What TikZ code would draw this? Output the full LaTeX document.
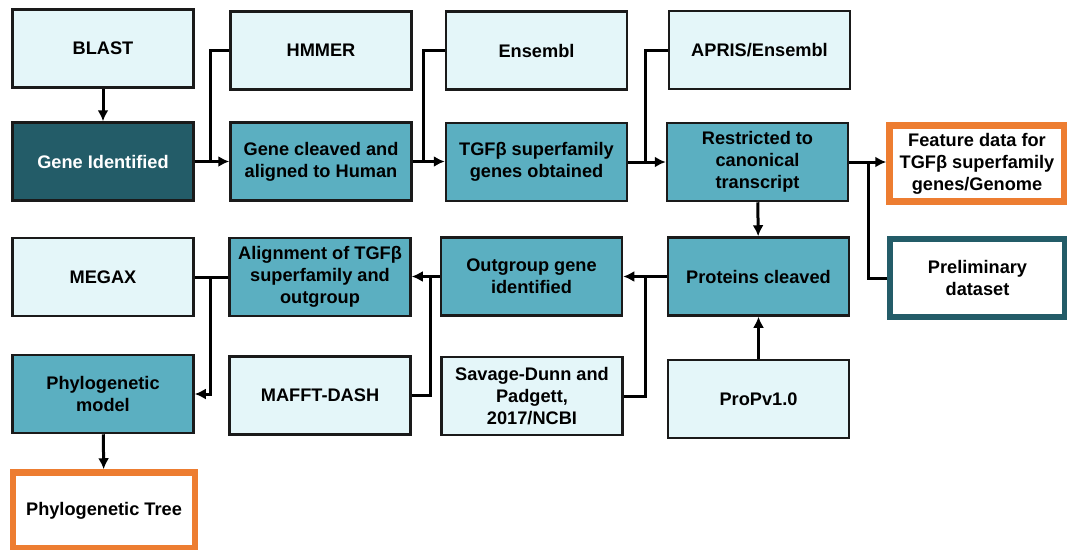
\documentclass[tikz,border=0pt]{standalone}
\usepackage{fontspec}
\setmainfont{Liberation Sans}
\usetikzlibrary{arrows.meta,calc}
\definecolor{boxlight}{HTML}{E4F6F9}
\definecolor{boxmid}{HTML}{5BAFC1}
\definecolor{boxdark}{HTML}{235C68}
\definecolor{edgeorange}{HTML}{ED7D31}
\definecolor{edgeline}{HTML}{1A1A1A}
\begin{document}
\begin{tikzpicture}[x=1pt,y=-1pt,
  base/.style={rectangle, draw=edgeline, line width=2.5pt, minimum width=181pt,
    minimum height=78pt, align=center, inner sep=2pt,
    font=\fontsize{18.2}{22}\selectfont\bfseries},
  lightbox/.style={base, fill=boxlight},
  midbox/.style={base, fill=boxmid},
  darkbox/.style={base, fill=boxdark, text=white},
  outbox/.style={base, fill=white, line width=6.5pt, minimum width=175pt, minimum height=76pt},
  link/.style={line width=3pt, draw=black},
  arr/.style={link, -{Latex[length=11pt,width=11pt]}}]
\useasboundingbox (0,0) rectangle (1067,549);

% top row: sources
\node[lightbox] (blast)    at (103,48.5)  {BLAST};
\node[lightbox] (hmmer)    at (321,50.5)  {HMMER};
\node[lightbox] (ensembl)  at (536.5,50.5) {Ensembl};
\node[lightbox] (apris)    at (759.5,50)  {APRIS/Ensembl};

% second row: pipeline steps
\node[darkbox] (geneid)    at (103,161.5) {Gene Identified};
\node[midbox]  (cleaved)   at (321,161.5) {Gene cleaved and\\aligned to Human};
\node[midbox]  (tgf)       at (536.5,162) {TGFβ superfamily\\genes obtained};
\node[midbox]  (restrict)  at (757.5,162) {Restricted to\\canonical\\transcript};
\node[outbox, draw=edgeorange] (feature) at (977,163.5) {Feature data for\\TGFβ superfamily\\genes/Genome};

% third row
\node[lightbox] (megax)    at (103,277)   {MEGAX};
\node[midbox]  (align)     at (320,277)   {Alignment of TGFβ\\superfamily and\\outgroup};
\node[midbox]  (outgroup)  at (531.5,276.5) {Outgroup gene\\identified};
\node[midbox]  (proteins)  at (758.5,276.5) {Proteins cleaved};
\node[outbox, draw=boxdark, minimum height=78pt] (prelim) at (977.5,278) {Preliminary\\dataset};

% fourth row
\node[midbox]  (phylo)     at (103,394)   {Phylogenetic\\model};
\node[lightbox] (mafft)    at (320,395.5) {MAFFT-DASH};
\node[lightbox] (savage)   at (532,396)   {Savage-Dunn and\\Padgett,\\2017/NCBI};
\node[lightbox] (propv)    at (758.5,399) {ProPv1.0};

% result
\node[outbox, draw=edgeorange, minimum width=182pt, minimum height=76pt] (tree) at (104,510.5) {Phylogenetic Tree};

% main flow
\draw[arr] (blast) -- (geneid);
\draw[arr] (geneid) -- (cleaved);
\draw[arr] (cleaved.east) -- (cleaved.east -| tgf.west);
\draw[arr] (tgf.east) -- (tgf.east -| restrict.west);
\draw[arr] (restrict.east) -- (restrict.east -| feature.west);
\draw[link] ($(restrict.east)+(19,0)$) |- (prelim.west);
\draw[arr] (restrict) -- (proteins);
\draw[arr] (propv) -- (proteins);
\draw[arr] (proteins.west) -- (proteins.west -| outgroup.east);
\draw[arr] (outgroup.west) -- (outgroup.west -| align.east);
\draw[link] (align.west) -- (align.west -| megax.east);
\draw[arr] ($(megax.east)+(16,0)$) |- (phylo.east);
\draw[arr] (phylo) -- (tree);

% side inputs joining the flow
\draw[link] (hmmer.west) -| ($(geneid.east)+(16,0)$);
\draw[link] (ensembl.west) -| ($(cleaved.east)+(11,0)$);
\draw[link] (apris.west) -| ($(tgf.east)+(17,0)$);
\draw[link] (savage.east) -| ($(outgroup.east)+(22,0)$);
\draw[link] (mafft.east) -| ($(align.east)+(19,0)$);
\end{tikzpicture}
\end{document}
